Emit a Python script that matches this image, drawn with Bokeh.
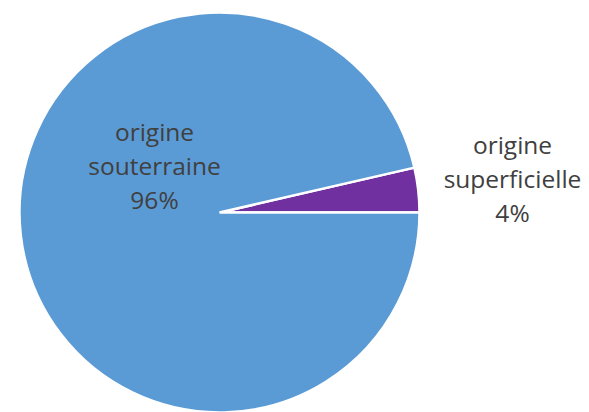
from bokeh.plotting import figure
from bokeh.models import ColumnDataSource, Range1d
from bokeh.core.properties import value
from bokeh.embed import file_html
from bokeh.resources import INLINE
import math

# data
categories = ["origine superficielle", "origine souterraine"]
values = [3.6, 96.4]
colors = ["#7030A0", "#5B9BD5"]
label_lines = [["origine", "superficielle", "4%"], ["origine", "souterraine", "96%"]]

# layout
W, H = 589, 412
cx, cy, R = 219, 200, 200
label_offsets = [(293, 34), (-65, 47)]  # centre of label block relative to pie centre
line_gap = 34
font = "Open Sans"
font_size = "24.5px"

total = sum(values)
starts, ends = [], []
acc = 0.0
for v in values:
    starts.append(2 * math.pi * acc / total)
    acc += v
    ends.append(2 * math.pi * acc / total)

src = ColumnDataSource(dict(cat=categories, start=starts, end=ends, color=colors,
                            x=[cx] * len(values), y=[cy] * len(values)))

p = figure(width=W, height=H, output_backend="svg", toolbar_location=None,
           x_range=Range1d(0, W), y_range=Range1d(0, H), min_border=0)
p.axis.visible = False
p.grid.visible = False
p.outline_line_color = None
p.background_fill_color = "white"

p.wedge(x="x", y="y", radius=R, start_angle="start", end_angle="end",
        fill_color="color", line_color="white", line_width=2.5, source=src)

tx, ty, tt = [], [], []
for (dx, dy), lines in zip(label_offsets, label_lines):
    n = len(lines)
    for i, t in enumerate(lines):
        tx.append(cx + dx)
        ty.append(cy + dy - (i - (n - 1) / 2) * line_gap)
        tt.append(t)

p.text(x=tx, y=ty, text=tt, text_align="center", text_baseline="middle",
       text_font=value(font), text_font_size=font_size, text_color="#404040")

open("out.html", "w").write(file_html(p, INLINE))
